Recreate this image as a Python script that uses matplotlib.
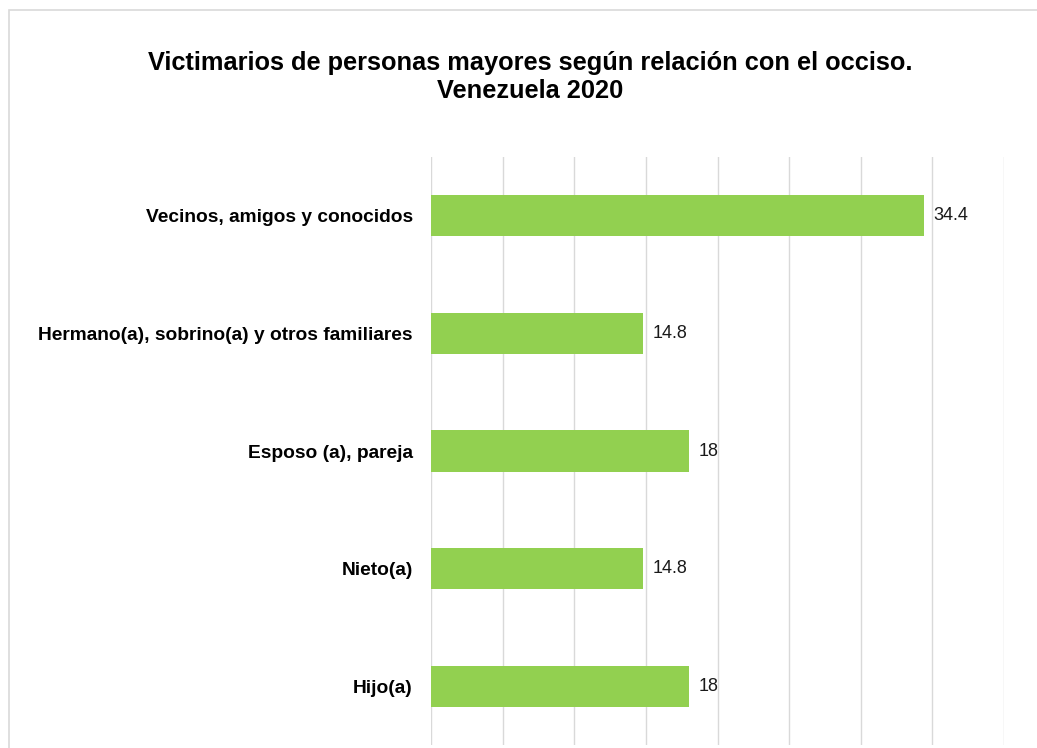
import matplotlib
matplotlib.use("Agg")
import matplotlib.pyplot as plt
from matplotlib.patches import Rectangle

plt.rcParams['font.family'] = ['Liberation Sans', 'DejaVu Sans']

categories = ["Vecinos, amigos y conocidos",
              "Hermano(a), sobrino(a) y otros familiares",
              "Esposo (a), pareja",
              "Nieto(a)",
              "Hijo(a)"]
values = [34.4, 14.8, 18, 14.8, 18]
value_labels = ["34.4", "14.8", "18", "14.8", "18"]
bar_color = "#92D050"

fig = plt.figure(figsize=(10.37, 7.48), dpi=100)
ax = fig.add_axes([0.4156, 0.004, 0.5526, 0.786])

# light frame around the chart area
fig.patches.append(Rectangle((9 / 1037, -0.1), 1.2, 1.1 - 10 / 748,
                             transform=fig.transFigure, fill=False,
                             edgecolor="#d9d9d9", linewidth=1.2))

ypos = list(range(len(categories)))[::-1]
ax.barh(ypos, values, height=0.35, color=bar_color, zorder=2)
for y, v, lab in zip(ypos, values, value_labels):
    ax.text(v + 0.7, y, lab, va="center", ha="left", fontsize=13, color="#1a1a1a")

ax.set_xlim(0, 40)
ax.set_ylim(-0.5, len(categories) - 0.5)
ax.set_xticks(range(0, 41, 5))
ax.xaxis.grid(True, color="#d9d9d9", linewidth=1, zorder=0)
ax.tick_params(axis="x", length=0, labelbottom=False)
ax.tick_params(axis="y", length=0, pad=13)
ax.set_yticks(ypos)
ax.set_yticklabels(categories, fontsize=13.8, fontweight="bold")
for s in ax.spines.values():
    s.set_visible(False)

fig.text(0.511, 0.897, "Victimarios de personas mayores según relación con el occiso.\nVenezuela 2020",
         ha="center", va="center", fontsize=18.3, fontweight="bold", linespacing=1.25)

fig.savefig("out.png", dpi=100)
